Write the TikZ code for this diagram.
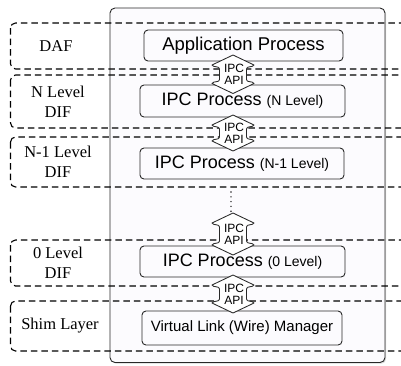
\documentclass[tikz,border=0pt]{standalone}
\usepackage{fontspec}
\setmainfont{Liberation Serif}
\newfontfamily\arial{Liberation Sans}
\usetikzlibrary{shadows}
\definecolor{lav}{RGB}{252,251,254}
\definecolor{edge}{RGB}{40,40,40}
\tikzset{
  bigbox/.style={draw=edge, line width=0.9pt, rounded corners=5pt, fill=lav,
    drop shadow={shadow xshift=1.2pt, shadow yshift=-1.2pt, opacity=0.3}},
  layerbox/.style={draw=black, line width=1.1pt, rounded corners=5pt, dash pattern=on 6.5pt off 4pt},
  procbox/.style={draw=edge, line width=0.9pt, rounded corners=4pt, fill=lav, inner sep=0pt},
  layerlabel/.style={font=\fontsize{16.5}{20}\selectfont, align=center, inner sep=0pt},
  apiarrow/.style={draw=edge, line width=0.85pt, fill=white, line join=round},
  apitext/.style={font=\arial\fontsize{12}{11.8}\selectfont, align=center, inner sep=0pt},
}
% double arrow shape: name, center x, top y, bottom y (y downward in px)
\newcommand{\apiarrowdraw}[4]{%
  \draw[apiarrow] (#2,#3) -- (#2+21,#3+10) to[out=-120,in=90] (#2+13.5,#3+14) -- (#2+13.5,#4-14)
    to[out=-90,in=120] (#2+21,#4-10)
    -- (#2,#4) -- (#2-21,#4-10) to[out=60,in=-90] (#2-13.5,#4-14) -- (#2-13.5,#3+14)
    to[out=90,in=-60] (#2-21,#3+10) -- cycle;
  \node[apitext] (#1) at (#2+1,{(#3+#4)/2}) {IPC\\API};
}
\begin{document}
\begin{tikzpicture}[x=1pt,y=-1pt]
\useasboundingbox (0,0) rectangle (401,365);
\begin{scope}
\clip (0,0) rectangle (401,365);
% big box
\draw[bigbox] (110,8) rectangle (385,362.5);
% layer dashed boxes
\draw[layerbox] (10.5,23) rectangle (420,69);
\draw[layerbox] (10.5,75) rectangle (420,128);
\draw[layerbox] (10.5,137) rectangle (420,187);
\draw[layerbox] (10.5,240) rectangle (420,286);
\draw[layerbox] (10.5,301) rectangle (420,351);
\end{scope}
% layer labels
\node[layerlabel] (ldaf) at (56,46) {DAF};
\node[layerlabel] (ln) at (58,102) {N Level\\DIF};
\node[layerlabel] (ln1) at (58,162) {N-1 Level\\DIF};
\node[layerlabel] (l0) at (58,263) {0 Level\\DIF};
\node[layerlabel] (lshim) at (60,326) {Shim Layer};
% process boxes
\node[procbox, minimum width=199pt, minimum height=31pt, font=\arial\fontsize{18.5}{20}\selectfont] (app) at (243.5,45.5) {Application Process};
\node[procbox, minimum width=205pt, minimum height=32pt, font=\arial\fontsize{18}{20}\selectfont] (pn) at (242.5,101) {IPC Process {\fontsize{14}{16}\selectfont(N Level)}};
\node[procbox, minimum width=204pt, minimum height=31pt, font=\arial\fontsize{18}{20}\selectfont] (pn1) at (242,163.5) {IPC Process {\fontsize{14}{16}\selectfont(N-1 Level)}};
\node[procbox, minimum width=205pt, minimum height=31pt, font=\arial\fontsize{18}{20}\selectfont] (p0) at (242.5,261.5) {IPC Process {\fontsize{14}{16}\selectfont(0 Level)}};
\node[procbox, minimum width=200pt, minimum height=34pt, font=\arial\fontsize{15}{17}\selectfont] (vl) at (242,328) {Virtual Link (Wire) Manager};
% dots
\coordinate (dtop) at (231,192);
\coordinate (dbot) at (231,212);
\draw[line width=1.6pt, line cap=round, dash pattern=on 0pt off 4.8pt, draw=edge] (dtop) -- (dbot);
% api arrows
\apiarrowdraw{a1}{233}{55}{93.5}
\apiarrowdraw{a2}{233}{115}{151}
\apiarrowdraw{a3}{233}{213}{255}
\apiarrowdraw{a4}{233}{275}{313}
\end{tikzpicture}
\end{document}
